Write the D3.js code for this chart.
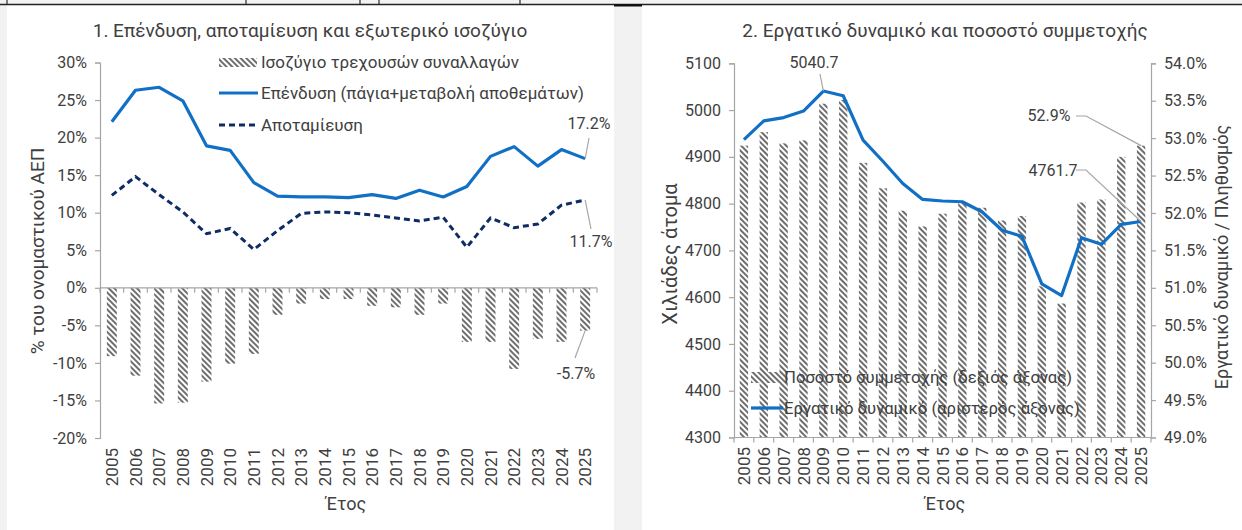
<!DOCTYPE html>
<html>
<head>
<meta charset="utf-8">
<script src="https://cdn.jsdelivr.net/npm/d3@7"></script>
<style>
  body { margin: 0; background: #fff; }
  svg text { font-family: Roboto, "Noto Sans", sans-serif; fill: #404040; }
</style>
</head>
<body>
<div id="chart"></div>
<script>
// ---- data ----
const years = ["2005","2006","2007","2008","2009","2010","2011","2012","2013","2014","2015",
  "2016","2017","2018","2019","2020","2021","2022","2023","2024","2025"];

// chart 1: % of nominal GDP
const currentAccount = [-9.1,-11.7,-15.4,-15.3,-12.5,-10.1,-8.8,-3.6,-2.1,-1.5,-1.5,
  -2.4,-2.6,-3.6,-2.1,-7.2,-7.2,-10.8,-6.8,-7.2,-5.7];
const investment = [22.1,26.3,26.7,24.9,18.9,18.3,14.0,12.2,12.1,12.1,12.0,
  12.4,11.9,13.0,12.1,13.5,17.5,18.8,16.2,18.4,17.2];
const savings = [12.3,14.8,12.4,10.1,7.2,7.9,5.1,7.6,9.9,10.1,10.0,
  9.7,9.3,8.9,9.4,5.4,9.3,8.0,8.5,11.0,11.7];
const pctTicks = [-20,-15,-10,-5,0,5,10,15,20,25,30];

// chart 2: labour force (thousands) and participation rate (%)
const labourForce = [4937,4977,4984,4998,5040.7,5030.6,4935.6,4890.6,4843,4809,4805.6,
  4804,4782,4743,4730,4628.6,4603.5,4727,4713,4755.6,4761.7];
const participation = [52.90,53.08,52.93,52.97,53.46,53.51,52.67,52.33,52.03,51.82,51.99,
  52.14,52.07,51.90,51.96,51.02,50.79,52.14,52.18,52.75,52.90];
const lfTicks = [4300,4400,4500,4600,4700,4800,4900,5000,5100];
const prTicks = [49.0,49.5,50.0,50.5,51.0,51.5,52.0,52.5,53.0,53.5,54.0];

const W = 1242, H = 530;
const BLUE = "#1170c5", NAVY = "#0e2c66", AXIS = "#a6a6a6";
const f1 = v => d3.format(".1f")(v).replace("−", "-");

const svg = d3.select("#chart").append("svg")
  .attr("width", W).attr("height", H);

// hatch pattern for bars
const defs = svg.append("defs");
const pat = defs.append("pattern")
  .attr("id", "hatch")
  .attr("patternUnits", "userSpaceOnUse")
  .attr("width", 4).attr("height", 4)
  .attr("patternTransform", "rotate(-45)");
pat.append("rect").attr("width", 4).attr("height", 4).attr("fill", "#fff");
pat.append("rect").attr("x", 0).attr("width", 2).attr("height", 4).attr("fill", "#6e6e6e");

// page frame bits (crop of a larger page)
svg.append("rect").attr("width", W).attr("height", 4).attr("fill", "#f2f2f2");
svg.append("rect").attr("x", 0).attr("y", 0).attr("width", 7).attr("height", H).attr("fill", "#f2f2f2");
svg.append("rect").attr("x", 614).attr("y", 4).attr("width", 28).attr("height", H).attr("fill", "#f2f2f2");
svg.append("line").attr("x1", 0).attr("x2", W).attr("y1", 4.5).attr("y2", 4.5)
  .attr("stroke", "#222").attr("stroke-width", 1.3);
svg.append("rect").attr("x", 614).attr("y", 4).attr("width", 28).attr("height", 2.5).attr("fill", "#111");
[7, 246, 360, 379, 520].forEach(x => {
  svg.append("line").attr("x1", x).attr("x2", x).attr("y1", 0).attr("y2", 4)
    .attr("stroke", "#2a2a3a").attr("stroke-width", 1.2);
});

function styleAxis(g) {
  g.select(".domain").attr("stroke", AXIS).attr("stroke-width", 1.2);
  g.selectAll(".tick line").attr("stroke", AXIS).attr("stroke-width", 1.2);
  g.selectAll(".tick text").style("font-size", "16px").attr("fill", "#404040");
}

function yearLabels(g, x, y0) {
  g.selectAll("text.yr")
    .data(years)
    .join("text")
      .attr("class", "yr")
      .attr("transform", d => `translate(${x(d) + x.bandwidth() / 2},${y0}) rotate(-90)`)
      .attr("text-anchor", "end")
      .attr("dy", "0.36em")
      .style("font-size", "17px")
      .text(d => d);
}

function bandTicks(g, x, y0) {
  const edges = years.map(d => x(d)).concat([x(years[years.length - 1]) + x.bandwidth()]);
  g.selectAll("line.bt")
    .data(edges)
    .join("line")
      .attr("class", "bt")
      .attr("x1", d => d).attr("x2", d => d)
      .attr("y1", y0).attr("y2", y0 + 5)
      .attr("stroke", AXIS).attr("stroke-width", 1.2);
  g.append("line")
    .attr("x1", edges[0]).attr("x2", edges[edges.length - 1])
    .attr("y1", y0).attr("y2", y0)
    .attr("stroke", AXIS).attr("stroke-width", 1.2);
}

// ================= chart 1 =================
const c1 = svg.append("g");
const x1 = d3.scaleBand().domain(years).range([100, 597]);
const y1 = d3.scaleLinear().domain([-20, 30]).range([438, 62.5]);

c1.append("text")
  .attr("x", 310).attr("y", 30).attr("dy", "0.35em")
  .attr("text-anchor", "middle")
  .style("font-size", "19px")
  .text("1. Επένδυση, αποταμίευση και εξωτερικό  ισοζύγιο");

c1.append("g")
  .attr("transform", "translate(100,0)")
  .call(d3.axisLeft(y1).tickValues(pctTicks).tickFormat(d => d + "%").tickSize(5).tickPadding(8))
  .call(styleAxis);

const bw1 = x1.bandwidth() * 0.42;
c1.selectAll("rect.ca")
  .data(currentAccount)
  .join("rect")
    .attr("class", "ca")
    .attr("x", (d, i) => x1(years[i]) + (x1.bandwidth() - bw1) / 2)
    .attr("y", d => y1(Math.max(0, d)))
    .attr("width", bw1)
    .attr("height", d => Math.abs(y1(d) - y1(0)))
    .attr("fill", "url(#hatch)");

bandTicks(c1, x1, y1(0));
yearLabels(c1, x1, 448);

const line1 = d3.line()
  .x((d, i) => x1(years[i]) + x1.bandwidth() / 2)
  .y(d => y1(d));

c1.append("path").datum(investment)
  .attr("d", line1).attr("fill", "none")
  .attr("stroke", BLUE).attr("stroke-width", 3.2).attr("stroke-linejoin", "round");
c1.append("path").datum(savings)
  .attr("d", line1).attr("fill", "none")
  .attr("stroke", NAVY).attr("stroke-width", 3).attr("stroke-dasharray", "6,4");

// axis titles
c1.append("text")
  .attr("transform", "translate(37,251) rotate(-90)")
  .attr("text-anchor", "middle").attr("dy", "0.35em")
  .style("font-size", "19px")
  .text("% του ονομαστικού ΑΕΠ");
c1.append("text")
  .attr("x", 346).attr("y", 504).attr("dy", "0.35em")
  .attr("text-anchor", "middle")
  .style("font-size", "18px")
  .text("Έτος");

// legend chart 1
const lg1 = c1.append("g");
lg1.append("rect").attr("x", 219).attr("y", 58).attr("width", 38).attr("height", 9).attr("fill", "url(#hatch)");
lg1.append("line").attr("x1", 219).attr("x2", 258).attr("y1", 93).attr("y2", 93)
  .attr("stroke", BLUE).attr("stroke-width", 3.2);
lg1.append("line").attr("x1", 219).attr("x2", 258).attr("y1", 125).attr("y2", 125)
  .attr("stroke", NAVY).attr("stroke-width", 3).attr("stroke-dasharray", "6,4");
[["Ισοζύγιο τρεχουσών συναλλαγών", 62],
 ["Επένδυση (πάγια+μεταβολή αποθεμάτων)", 93],
 ["Αποταμίευση", 125]].forEach(([t, y]) => {
  lg1.append("text").attr("x", 261).attr("y", y).attr("dy", "0.35em")
    .style("font-size", "17px").text(t);
});

// data labels chart 1
const last = years.length - 1;
const xl1 = x1(years[last]) + x1.bandwidth() / 2;
function leader(g, pts) {
  g.append("path").attr("d", d3.line()(pts)).attr("fill", "none")
    .attr("stroke", AXIS).attr("stroke-width", 1.2);
}
function label(g, x, y, t) {
  g.append("text").attr("x", x).attr("y", y).attr("dy", "0.35em")
    .attr("text-anchor", "middle").style("font-size", "16px").text(t);
}
leader(c1, [[xl1, y1(investment[last])], [589, 138]]);
label(c1, 589, 123, f1(investment[last]) + "%");
leader(c1, [[xl1, y1(savings[last])], [591, 229]]);
label(c1, 591, 241, f1(savings[last]) + "%");
leader(c1, [[xl1, y1(currentAccount[last])], [575, 358]]);
label(c1, 576, 373, f1(currentAccount[last]) + "%");

// ================= chart 2 =================
const c2 = svg.append("g");
const x2 = d3.scaleBand().domain(years).range([734, 1151]);
const yl2 = d3.scaleLinear().domain([4300, 5100]).range([437.5, 63.3]);
const yr2 = d3.scaleLinear().domain([49, 54]).range([437.5, 63.3]);

c2.append("text")
  .attr("x", 945).attr("y", 30).attr("dy", "0.35em")
  .attr("text-anchor", "middle")
  .style("font-size", "19px")
  .text("2. Εργατικό  δυναμικό  και ποσοστό συμμετοχής");

c2.append("g")
  .attr("transform", "translate(734,0)")
  .call(d3.axisLeft(yl2).tickValues(lfTicks).tickFormat(d3.format("d")).tickSize(5).tickPadding(8))
  .call(styleAxis);
c2.append("g")
  .attr("transform", "translate(1151,0)")
  .call(d3.axisRight(yr2).tickValues(prTicks).tickFormat(d => f1(d) + "%").tickSize(5).tickPadding(8))
  .call(styleAxis);

const bw2 = x2.bandwidth() * 0.42;
c2.selectAll("rect.pr")
  .data(participation)
  .join("rect")
    .attr("class", "pr")
    .attr("x", (d, i) => x2(years[i]) + (x2.bandwidth() - bw2) / 2)
    .attr("y", d => yr2(d))
    .attr("width", bw2)
    .attr("height", d => yr2(49) - yr2(d))
    .attr("fill", "url(#hatch)");

bandTicks(c2, x2, yl2(4300));
yearLabels(c2, x2, 447);

// legend chart 2 (drawn over bars, no background)
const lg2 = c2.append("g");
lg2.append("rect").attr("x", 751).attr("y", 372).attr("width", 31).attr("height", 11).attr("fill", "url(#hatch)");
lg2.append("line").attr("x1", 751).attr("x2", 783).attr("y1", 408).attr("y2", 408)
  .attr("stroke", BLUE).attr("stroke-width", 3.2);
[["Ποσοστό συμμετοχής (δεξιός άξονας)", 377],
 ["Εργατικό δυναμικό (αριστερός άξονας)", 408]].forEach(([t, y]) => {
  lg2.append("text").attr("x", 784).attr("y", y).attr("dy", "0.35em")
    .style("font-size", "16.7px").text(t);
});

const line2 = d3.line()
  .x((d, i) => x2(years[i]) + x2.bandwidth() / 2)
  .y(d => yl2(d));
c2.append("path").datum(labourForce)
  .attr("d", line2).attr("fill", "none")
  .attr("stroke", BLUE).attr("stroke-width", 3.2).attr("stroke-linejoin", "round");

c2.append("text")
  .attr("transform", "translate(670,254) rotate(-90)")
  .attr("text-anchor", "middle").attr("dy", "0.35em")
  .style("font-size", "20px")
  .text("Χιλιάδες άτομα");
c2.append("text")
  .attr("transform", "translate(1222,257) rotate(-90)")
  .attr("text-anchor", "middle").attr("dy", "0.35em")
  .style("font-size", "18px")
  .text("Εργατικό δυναμικό / Πληθυσμός");
c2.append("text")
  .attr("x", 945).attr("y", 504).attr("dy", "0.35em")
  .attr("text-anchor", "middle")
  .style("font-size", "18px")
  .text("Έτος");

// data labels chart 2
const peak = d3.maxIndex(labourForce);
const xp = x2(years[peak]) + x2.bandwidth() / 2;
const xl2 = x2(years[last]) + x2.bandwidth() / 2;
leader(c2, [[xp, yl2(labourForce[peak])], [820, 74]]);
label(c2, 814, 62, f1(labourForce[peak]));
leader(c2, [[1076, 116], [1086, 116], [xl2, yr2(participation[last])]]);
label(c2, 1049, 115, f1(participation[last]) + "%");
leader(c2, [[1076, 170], [1086, 170], [xl2, yl2(labourForce[last])]]);
label(c2, 1053, 170, f1(labourForce[last]));
</script>
</body>
</html>
